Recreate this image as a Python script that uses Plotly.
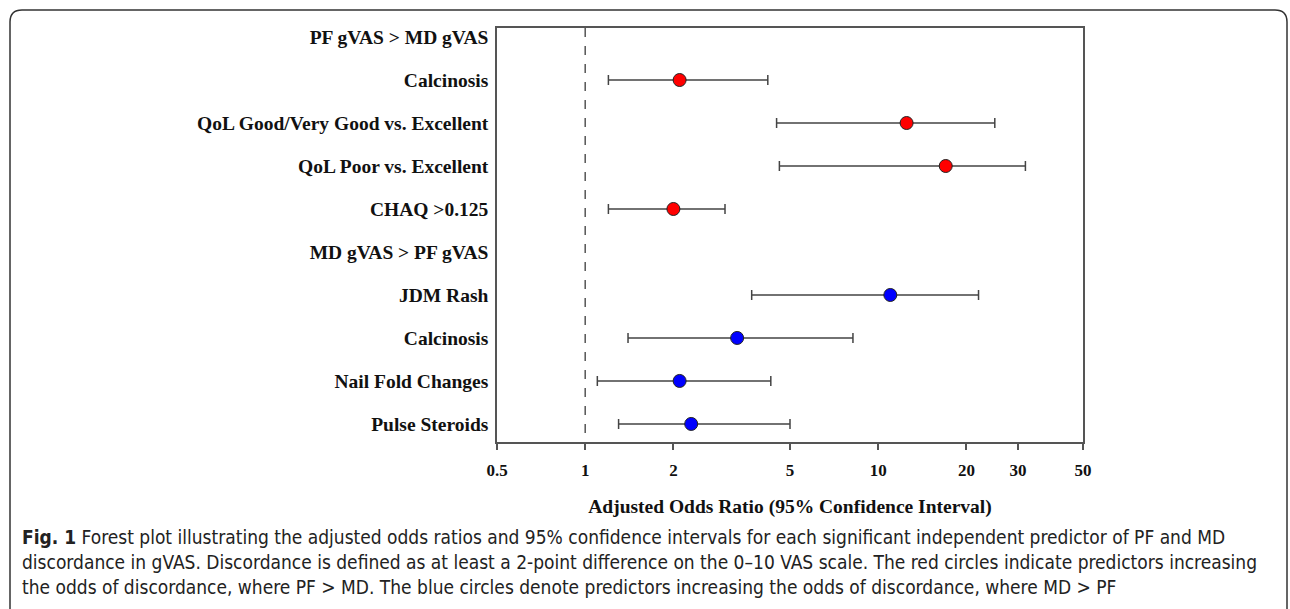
import plotly.graph_objects as go

# ---- data ----
row_labels = [
    "PF gVAS > MD gVAS",
    "Calcinosis",
    "QoL Good/Very Good vs. Excellent",
    "QoL Poor vs. Excellent",
    "CHAQ >0.125",
    "MD gVAS > PF gVAS",
    "JDM Rash",
    "Calcinosis",
    "Nail Fold Changes",
    "Pulse Steroids",
]
pf_rows = [1, 2, 3, 4]
pf_or = [2.1, 12.5, 17.0, 2.0]
pf_lo = [1.2, 4.5, 4.6, 1.2]
pf_hi = [4.2, 25.0, 31.8, 3.0]

md_rows = [6, 7, 8, 9]
md_or = [11.0, 3.3, 2.1, 2.3]
md_lo = [3.7, 1.4, 1.1, 1.3]
md_hi = [22.0, 8.2, 4.3, 5.0]

x_ticks = [0.5, 1, 2, 5, 10, 20, 30, 50]
x_tick_text = ["0.5", "1", "2", "5", "10", "20", "30", "50"]
ref_line_x = [1, 1]
ref_line_y = [-0.21, 9.42]

x_title = "Adjusted Odds Ratio (95% Confidence Interval)"
caption_lines = [
    "<b>Fig. 1</b> Forest plot illustrating the adjusted odds ratios and 95% confidence intervals for each significant independent predictor of PF and MD",
    "discordance in gVAS. Discordance is defined as at least a 2-point difference on the 0\u201310 VAS scale. The red circles indicate predictors increasing",
    "the odds of discordance, where PF > MD. The blue circles denote predictors increasing the odds of discordance, where MD > PF",
]

# ---- geometry ----
W, H = 1290, 609
L, R, T, B = 497, 1083, 28, 442
SERIF = "Liberation Serif, Times New Roman, serif"
CAPFONT = "Liberation Sans Narrow, Arial Narrow, DejaVu Sans Condensed, sans-serif"


def px_x(p):
    return (p - L) / (R - L)


def px_y(p):
    return (B - p) / (B - T)


fig = go.Figure()

fig.add_trace(go.Scatter(
    x=ref_line_x, y=ref_line_y, mode="lines",
    line=dict(color="#555555", width=1.5, dash="dash"),
    hoverinfo="skip", showlegend=False,
))


def add_series(rows, vals, lo, hi, color):
    fig.add_trace(go.Scatter(
        x=vals, y=rows, mode="markers",
        marker=dict(symbol="circle", size=13, color=color,
                    line=dict(color="#222222", width=1)),
        error_x=dict(type="data", symmetric=False,
                     array=[h - v for h, v in zip(hi, vals)],
                     arrayminus=[v - l for v, l in zip(vals, lo)],
                     color="#444444", thickness=1.5, width=5),
        showlegend=False,
    ))


add_series(pf_rows, pf_or, pf_lo, pf_hi, "#ff0000")
add_series(md_rows, md_or, md_lo, md_hi, "#0000ff")

fig.update_xaxes(
    type="log", range=[-0.30103, 1.69897],
    tickvals=x_ticks, ticktext=x_tick_text,
    ticks="outside", ticklen=6, tickwidth=1.5, tickcolor="#555555",
    showline=True, linecolor="#555555", linewidth=1.5, mirror=True,
    showgrid=False, zeroline=False,
    tickfont=dict(family=SERIF, size=17, color="#111111", weight="bold"),
    ticklabelstandoff=6,
    title=dict(text=x_title, standoff=20,
               font=dict(family=SERIF, size=19.5, color="#111111", weight="bold")),
)
fig.update_yaxes(
    range=[9.42, -0.21],
    tickvals=list(range(len(row_labels))), ticktext=row_labels,
    ticks="", showline=True, linecolor="#555555", linewidth=1.5, mirror=True,
    showgrid=False, zeroline=False,
    tickfont=dict(family=SERIF, size=19.5, color="#111111", weight="bold"),
    ticklabelstandoff=3,
)

annotations = []
cap_y = [537, 562, 587]
for txt, yy in zip(caption_lines, cap_y):
    annotations.append(dict(
        xref="paper", yref="paper", x=px_x(20), y=px_y(yy),
        xanchor="left", yanchor="middle", showarrow=False, text=txt,
        font=dict(family=CAPFONT, size=19, color="#222222"),
    ))

# rounded outer frame (in pixel-derived paper coordinates)
fl, ft, fr, fb, rr = 10, 10, 1287, 640, 12
path = (f"M {px_x(fl)},{px_y(fb)} L {px_x(fl)},{px_y(ft + rr)} "
        f"Q {px_x(fl)},{px_y(ft)} {px_x(fl + rr)},{px_y(ft)} "
        f"L {px_x(fr - rr)},{px_y(ft)} Q {px_x(fr)},{px_y(ft)} {px_x(fr)},{px_y(ft + rr)} "
        f"L {px_x(fr)},{px_y(fb)}")

fig.update_layout(
    width=W, height=H,
    margin=dict(l=L, r=W - R, t=T, b=H - B, pad=0),
    paper_bgcolor="white", plot_bgcolor="white",
    annotations=annotations,
    shapes=[dict(type="path", xref="paper", yref="paper", path=path,
                 line=dict(color="#333333", width=1.5), layer="above")],
)

fig.write_html("out.html", config={"displayModeBar": False},
               post_script="document.body.style.margin='0';")
